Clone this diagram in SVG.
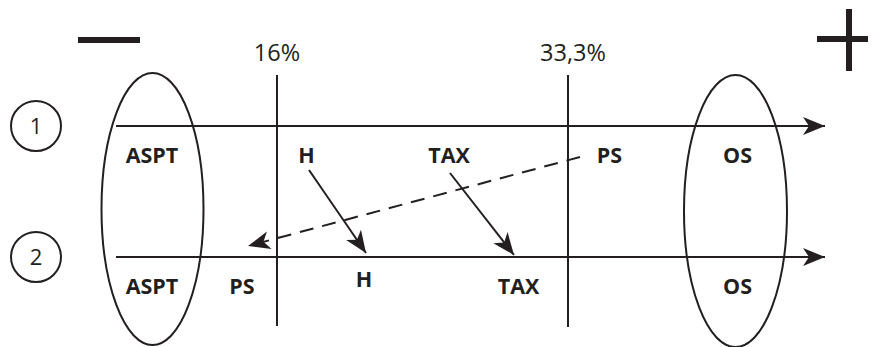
<svg xmlns="http://www.w3.org/2000/svg" width="872" height="347" viewBox="0 0 872 347">
<style>
.ln{stroke:#231f20;stroke-width:2;fill:none}
.lb{font-family:"Open Sans","Liberation Sans",sans-serif;font-weight:bold;font-size:21.5px;fill:#231f20;text-anchor:middle}
.pc{font-family:"Open Sans","Liberation Sans",sans-serif;font-size:23.5px;fill:#231f20;text-anchor:middle}
.num{font-family:"Open Sans","Liberation Sans",sans-serif;font-size:22px;fill:#231f20;text-anchor:middle}
</style>
<defs>
<marker id="ah" markerUnits="userSpaceOnUse" viewBox="-23 -10 24 20" refX="0" refY="0" markerWidth="24" markerHeight="20" orient="auto">
<path d="M0,0 L-22,-9 L-16,0 L-22,9 Z" fill="#231f20"/>
</marker>
</defs>
<g id="minus"><rect x="78" y="37" width="62" height="6" fill="#231f20"/></g>
<g id="plus"><rect x="817" y="36" width="51" height="6" fill="#231f20"/><rect x="846" y="9" width="6" height="62" fill="#231f20"/></g>
<g id="row1-marker"><circle cx="36" cy="126" r="25" class="ln"/><text x="36" y="134" class="num">1</text></g>
<g id="row2-marker"><circle cx="36" cy="257" r="25" class="ln"/><text x="36" y="265" class="num">2</text></g>
<g id="aspt-group"><ellipse cx="152.5" cy="209" rx="51" ry="136" class="ln"/></g>
<g id="os-group"><ellipse cx="735.5" cy="211" rx="51.5" ry="136" class="ln"/></g>
<g id="threshold-16"><line x1="277" y1="75" x2="277" y2="326" class="ln"/><text x="277" y="61" class="pc">16%</text></g>
<g id="threshold-33"><line x1="568" y1="75" x2="568" y2="327" class="ln"/><text x="573" y="61" class="pc">33,3%</text></g>
<g id="connectors">
<line x1="116" y1="126" x2="825" y2="126" class="ln" marker-end="url(#ah)"/>
<line x1="116" y1="257" x2="825" y2="257" class="ln" marker-end="url(#ah)"/>
<line x1="309" y1="170" x2="366" y2="253" class="ln" marker-end="url(#ah)"/>
<line x1="450" y1="173" x2="514" y2="255" class="ln" marker-end="url(#ah)"/>
<line x1="580" y1="157" x2="248" y2="246" class="ln" stroke-dasharray="14 9" marker-end="url(#ah)"/>
</g>
<g id="n-aspt1"><text x="152" y="163" class="lb">ASPT</text></g>
<g id="n-h1"><text x="306.5" y="163" class="lb">H</text></g>
<g id="n-tax1"><text x="449" y="163" class="lb">TAX</text></g>
<g id="n-ps1"><text x="609.5" y="163" class="lb">PS</text></g>
<g id="n-os1"><text x="737.5" y="163" class="lb">OS</text></g>
<g id="n-aspt2"><text x="152" y="294" class="lb">ASPT</text></g>
<g id="n-ps2"><text x="242" y="294" class="lb">PS</text></g>
<g id="n-h2"><text x="364" y="287" class="lb">H</text></g>
<g id="n-tax2"><text x="518.5" y="294" class="lb">TAX</text></g>
<g id="n-os2"><text x="737.5" y="294" class="lb">OS</text></g>
</svg>
